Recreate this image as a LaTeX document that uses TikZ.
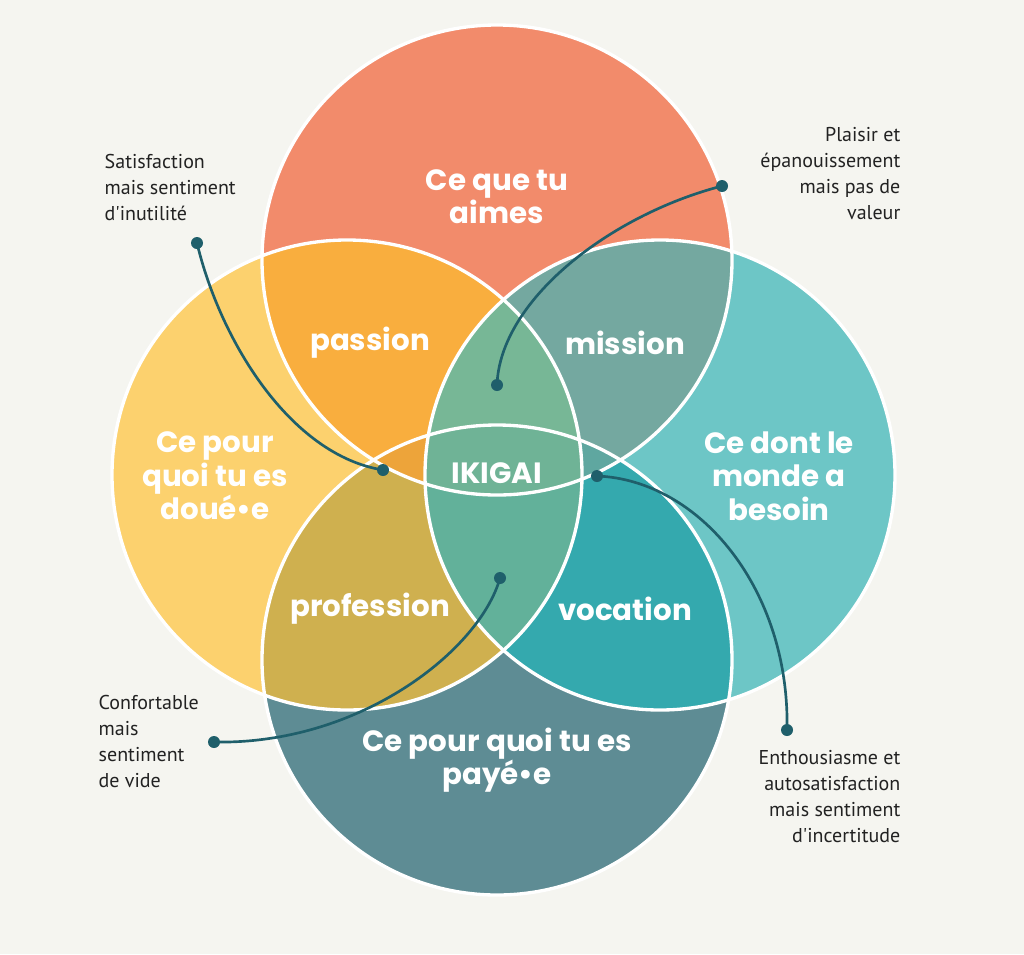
\documentclass[tikz,border=0pt]{standalone}
\usepackage{fontspec}
\newfontfamily\pop{Poppins}
\newfontfamily\note{PT Sans}
\usetikzlibrary{positioning}
\definecolor{bgc}{HTML}{F5F5F0}
\definecolor{cT}{HTML}{F28B6B}
\definecolor{cL}{HTML}{FCD16E}
\definecolor{cR}{HTML}{6DC6C6}
\definecolor{cB}{HTML}{5E8C94}
\definecolor{cTL}{HTML}{F9AE3E}
\definecolor{cTR}{HTML}{74A8A0}
\definecolor{cLB}{HTML}{CFB04F}
\definecolor{cRB}{HTML}{34A9AE}
\definecolor{cTLR}{HTML}{77B796}
\definecolor{cTLB}{HTML}{EDA43A}
\definecolor{cTRB}{HTML}{5FA7A0}
\definecolor{cLRB}{HTML}{62B19A}
\definecolor{cAll}{HTML}{6FB396}
\definecolor{link}{HTML}{1F5F6B}
\definecolor{ink}{HTML}{222222}
\begin{document}
\begin{tikzpicture}[x=0.75pt, y=-0.75pt,
    big/.style={text=white, font=\pop\bfseries\fontsize{22}{25}\selectfont, align=center},
    note/.style={text=ink, font=\note\fontsize{15}{19.5}\selectfont},
    ring/.style={draw=white, line width=2.5pt},
    wire/.style={draw=link, line width=2pt},
    dot/.style={fill=link}]
    % Background
    \fill[bgc] (0,0) rectangle (1024,954);
    \useasboundingbox (0,0) rectangle (1024,954);

    % Circle centres
    \coordinate (T) at (497,260);
    \coordinate (L) at (347,475);
    \coordinate (R) at (660,475);
    \coordinate (B) at (497,660);
    \def\rad{235}

    % Single areas
    \fill[cT] (T) circle (\rad);
    \fill[cL] (L) circle (\rad);
    \fill[cR] (R) circle (\rad);
    \fill[cB] (B) circle (\rad);

    % Pair overlaps
    \begin{scope} \clip (T) circle (\rad); \fill[cTL] (L) circle (\rad); \end{scope}
    \begin{scope} \clip (T) circle (\rad); \fill[cTR] (R) circle (\rad); \end{scope}
    \begin{scope} \clip (L) circle (\rad); \fill[cLB] (B) circle (\rad); \end{scope}
    \begin{scope} \clip (R) circle (\rad); \fill[cRB] (B) circle (\rad); \end{scope}

    % Triple overlaps
    \begin{scope} \clip (T) circle (\rad); \clip (L) circle (\rad); \fill[cTLR] (R) circle (\rad); \end{scope}
    \begin{scope} \clip (T) circle (\rad); \clip (L) circle (\rad); \fill[cTLB] (B) circle (\rad); \end{scope}
    \begin{scope} \clip (T) circle (\rad); \clip (R) circle (\rad); \fill[cTRB] (B) circle (\rad); \end{scope}
    \begin{scope} \clip (L) circle (\rad); \clip (R) circle (\rad); \fill[cLRB] (B) circle (\rad); \end{scope}

    % Centre
    \begin{scope} \clip (T) circle (\rad); \clip (L) circle (\rad); \clip (R) circle (\rad); \fill[cAll] (B) circle (\rad); \end{scope}

    % Outlines
    \draw[ring] (T) circle (\rad);
    \draw[ring] (L) circle (\rad);
    \draw[ring] (R) circle (\rad);
    \draw[ring] (B) circle (\rad);

    % Labels
    \node[big] (aimes) at (497,197) {Ce que tu\\aimes};
    \node[big] (passion) at (370,343) {passion};
    \node[big] (mission) at (625,343) {mission};
    \node[big] (doue) at (215,476) {Ce pour\\quoi tu es\\doué•e};
    \node[big] (ikigai) at (497,473) {IKIGAI};
    \node[big] (besoin) at (779,476) {Ce dont le\\monde a\\besoin};
    \node[big] (profession) at (370,609) {profession};
    \node[big] (vocation) at (625,609) {vocation};
    \node[big] (paye) at (497,760) {Ce pour quoi tu es\\payé•e};

    % Notes
    \node[note, align=left, anchor=north west] (inutile) at (100,150) {Satisfaction\\mais sentiment\\d'inutilité};
    \node[note, align=right, anchor=north east] (valeur) at (905,123) {Plaisir et\\épanouissement\\mais pas de\\valeur};
    \node[note, align=left, anchor=north west] (vide) at (94,691) {Confortable\\mais\\sentiment\\de vide};
    \node[note, align=right, anchor=north east] (incert) at (905,746) {Enthousiasme et\\autosatisfaction\\mais sentiment\\d'incertitude};

    % Connector ends
    \coordinate (s1) at (197,243); \coordinate (e1) at (383,470);
    \coordinate (s2) at (722,186); \coordinate (e2) at (497,385);
    \coordinate (s3) at (214,742); \coordinate (e3) at (500,578);
    \coordinate (s4) at (787,730); \coordinate (e4) at (597,476);

    % Connectors
    \draw[wire] (s1) .. controls (220,340) and (290,455) .. (e1);
    \draw[wire] (s2) .. controls (610,215) and (500,300) .. (e2);
    \draw[wire] (s3) .. controls (360,745) and (480,650) .. (e3);
    \draw[wire] (s4) .. controls (790,590) and (700,480) .. (e4);
    \foreach \p in {s1,e1,s2,e2,s3,e3,s4,e4}
        \fill[dot] (\p) circle (6);
\end{tikzpicture}
\end{document}
